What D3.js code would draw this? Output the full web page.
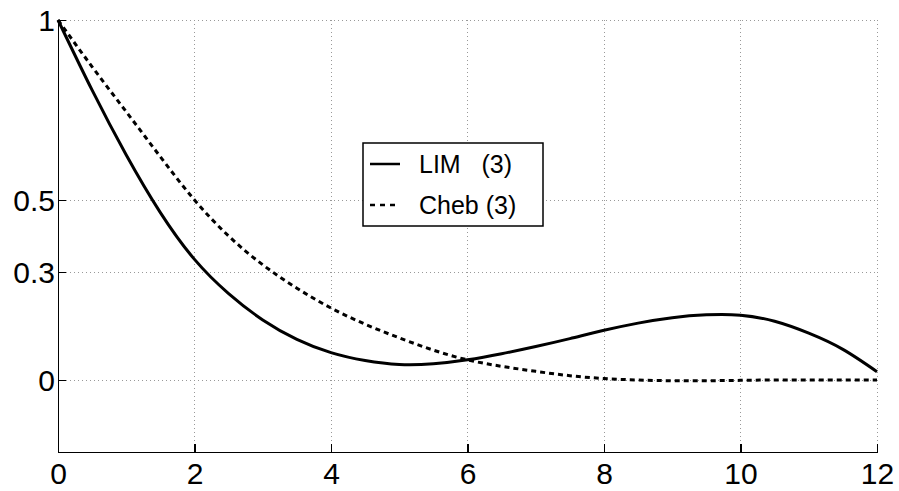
<!DOCTYPE html>
<meta charset="utf-8">
<style>
body { margin: 0; background: #fff; }
svg { font-family: Arial, "Liberation Sans", sans-serif; }
.axis path, .axis line { stroke: #000; stroke-width: 1.5; shape-rendering: crispEdges; }
.axis text { font-size: 30px; fill: #000; }
.grid line { stroke: #999; stroke-width: 1; stroke-dasharray: 1,3; shape-rendering: crispEdges; }
.curve { fill: none; stroke: #000; stroke-width: 3; }
.legend text { font-size: 25px; white-space: pre; }
</style>
<svg width="899" height="491"></svg>
<script src="https://cdn.jsdelivr.net/npm/d3@7"></script>
<script>

// sample positions along x
var xs = [0, 0.5, 1, 1.5, 2, 2.5, 3, 3.5, 4, 4.5, 5, 5.5, 6, 6.5, 7, 7.5, 8, 8.5, 9, 9.5, 10, 10.5, 11, 11.5, 12];

// values
var limValues  = [1, 0.805, 0.625, 0.465, 0.335, 0.24, 0.167, 0.113, 0.076, 0.054, 0.043, 0.045, 0.056, 0.073, 0.093, 0.115, 0.138, 0.158, 0.173, 0.181, 0.18, 0.163, 0.13, 0.085, 0.023];
var chebValues = [1, 0.87, 0.745, 0.62, 0.5, 0.4, 0.32, 0.255, 0.2, 0.155, 0.117, 0.083, 0.056, 0.038, 0.024, 0.012, 0.004, 0, -0.002, -0.002, -0.001, 0, 0, 0, 0];

var seriesNames = ["LIM   (3)", "Cheb (3)"];
var xTicks = [0, 2, 4, 6, 8, 10, 12];
var yTicks = [0, 0.3, 0.5, 1];

var svg = d3.select("svg"),
  plotLeft = 58, plotRight = 877, plotTop = 20, plotBottom = 452;

var x = d3.scaleLinear().domain([0, 12]).range([plotLeft, plotRight]),
  y = d3.scaleLinear().domain([-0.2, 1]).range([plotBottom, plotTop]);

// dotted grid
var grid = svg.append("g").attr("class", "grid");
grid.selectAll(".gx")
  .data(xTicks.filter(function(d) { return d > 0; }))
  .enter().append("line")
    .attr("x1", function(d) { return x(d); })
    .attr("x2", function(d) { return x(d); })
    .attr("y1", plotTop)
    .attr("y2", plotBottom);
grid.selectAll(".gy")
  .data(yTicks)
  .enter().append("line")
    .attr("x1", plotLeft)
    .attr("x2", plotRight)
    .attr("y1", function(d) { return y(d); })
    .attr("y2", function(d) { return y(d); });

// axes, ticks pointing inward
svg.append("g")
  .attr("class", "axis")
  .attr("transform", "translate(0," + plotBottom + ")")
  .call(d3.axisBottom(x).tickValues(xTicks).tickSizeInner(-8).tickSizeOuter(0)
    .tickFormat(d3.format("d")))
  .selectAll("text").attr("y", 11).attr("dy", "0.71em");

svg.append("g")
  .attr("class", "axis")
  .attr("transform", "translate(" + plotLeft + ",0)")
  .call(d3.axisLeft(y).tickValues(yTicks).tickSizeInner(-8).tickSizeOuter(0)
    .tickFormat(function(d) { return d === 1 ? "1" : d === 0 ? "0" : d3.format(".1f")(d); }))
  .selectAll("text").attr("x", -3).attr("dy", "0.36em");

svg.selectAll(".axis .domain").attr("fill", "none");

// curves
var line = d3.line()
  .x(function(d, i) { return x(xs[i]); })
  .y(function(d) { return y(d); })
  .curve(d3.curveNatural);

svg.append("path")
  .attr("class", "curve")
  .attr("d", line(limValues));

svg.append("path")
  .attr("class", "curve")
  .attr("stroke-dasharray", "5,4")
  .attr("d", line(chebValues));

// legend
var legend = svg.append("g").attr("class", "legend");
legend.append("rect")
  .attr("x", 363).attr("y", 143)
  .attr("width", 180).attr("height", 83)
  .attr("fill", "#fff").attr("stroke", "#000").attr("stroke-width", 1.5);

var rows = legend.selectAll(".row")
  .data(seriesNames)
  .enter().append("g")
    .attr("transform", function(d, i) { return "translate(0," + (164 + i * 41) + ")"; });

rows.append("line")
  .attr("x1", 370).attr("x2", 400)
  .attr("stroke", "#000").attr("stroke-width", 2.5)
  .attr("stroke-dasharray", function(d, i) { return i ? "5,5" : null; });

rows.append("text")
  .attr("x", 419).attr("y", 9)
  .text(function(d) { return d; });

</script>
